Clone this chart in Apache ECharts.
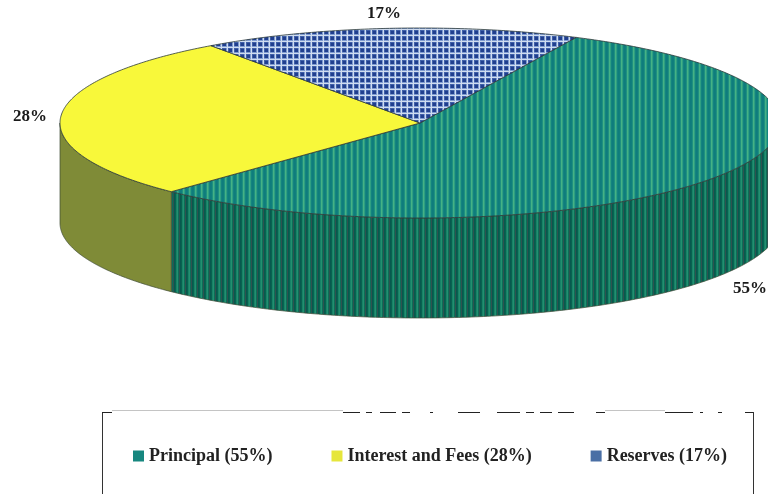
<!DOCTYPE html>
<html><head><meta charset="utf-8">
<style>html,body{margin:0;padding:0;background:#fff}#c{width:768px;height:494px}</style>
<script src="https://cdn.jsdelivr.net/npm/echarts@6/dist/echarts.min.js"></script>
</head><body><div id="c"></div>
<script>
const categories = ['Principal', 'Interest and Fees', 'Reserves'];
const values = [55, 28, 17];
const legendColors = ['#17877f', '#e6e63c', '#4a6fa5'];
const labelAnchors = [[750, 289], [30, 117], [384, 14]];

const cx = 420, cy = 123, rx = 360, ry = 95, depth = 100, startDeg = 25.7;
const total = values.reduce((a, b) => a + b, 0);

function tile(w, h, draw) {
  const c = document.createElement('canvas');
  c.width = w; c.height = h;
  draw(c.getContext('2d'));
  return { image: c, repeat: 'repeat' };
}
function stripes(cols) {
  return tile(cols.length, 4, g => cols.forEach((col, i) => { g.fillStyle = col; g.fillRect(i, 0, 1, 4); }));
}
const plaid = tile(6, 6, g => {
  g.fillStyle = '#213f8e'; g.fillRect(0, 0, 6, 6);
  g.fillStyle = '#3f5fa8'; g.fillRect(0, 0, 4, 1); g.fillRect(0, 0, 1, 4);
  g.fillStyle = '#7f9bd0'; g.fillRect(0, 4, 6, 1); g.fillRect(4, 0, 1, 6);
  g.fillStyle = '#cfdcf0'; g.fillRect(5, 0, 1, 6); g.fillRect(0, 5, 6, 1);
});
const topFills = [
  stripes(['#0f7c7d', '#107f7c', '#1f9080', '#45b285', '#2f9f82', '#13847f']),
  '#f8f83a',
  plaid
];
const sideFills = [
  stripes(['#07594f', '#08634f', '#178268', '#23906f', '#0e6c58', '#2f534f']),
  '#7f8b37',
  '#34507f'
];

function pt(deg, dy) {
  const a = deg * Math.PI / 180;
  return [cx + rx * Math.sin(a), cy - ry * Math.cos(a) + (dy || 0)];
}
function arc(from, to, dy) {
  const n = Math.max(2, Math.ceil(Math.abs(to - from) * 1.5));
  const out = [];
  for (let i = 0; i <= n; i++) out.push(pt(from + (to - from) * i / n, dy));
  return out;
}

const series = categories.map((name, idx) => {
  const before = values.slice(0, idx).reduce((a, b) => a + b, 0);
  return {
    type: 'custom',
    name: name + ' (' + values[idx] + '%)',
    coordinateSystem: 'none',
    silent: true,
    itemStyle: { color: legendColors[idx] },
    data: [[values[idx]]],
    renderItem: (params, api) => {
      const v = api.value(0);
      const a0 = startDeg + before / total * 360;
      const a1 = a0 + v / total * 360;
      const children = [];
      const s0 = Math.max(a0, 90), s1 = Math.min(a1, 270);
      if (s1 > s0) {
        children.push({
          type: 'polygon',
          shape: { points: arc(s0, s1, 0).concat(arc(s1, s0, depth)) },
          style: { fill: sideFills[idx], stroke: '#3d4a35', lineWidth: 0.7 }
        });
      }
      children.push({
        type: 'polygon',
        shape: { points: [[cx, cy]].concat(arc(a0, a1, 0)) },
        style: { fill: topFills[idx], stroke: '#2c3a3a', lineWidth: 0.8 }
      });
      children.push({
        type: 'text',
        style: {
          x: labelAnchors[idx][0], y: labelAnchors[idx][1],
          text: v + '%', fill: '#1a1a1a', align: 'center', verticalAlign: 'middle',
          fontFamily: 'Liberation Serif', fontSize: 17, fontWeight: 'bold'
        }
      });
      return { type: 'group', children };
    }
  };
});

const edge = (x1, y1, x2, y2, stroke) => ({
  type: 'line', silent: true, z: 0,
  shape: { x1, y1, x2, y2 }, style: { stroke, lineWidth: 1 }
});
const topDashes = [[102, 112], [343, 360], [366, 372], [380, 396], [402, 410], [430, 433], [458, 480], [497, 520], [526, 534], [540, 552], [558, 574], [596, 605], [665, 693], [700, 703], [718, 722], [745, 753]];
const chart = echarts.init(document.getElementById('c'), null, { renderer: 'canvas' });
chart.setOption({
  animation: false,
  backgroundColor: '#fff',
  graphic: [
    edge(102.5, 412, 102.5, 494, '#333'),
    edge(753.5, 412, 753.5, 494, '#333'),
    edge(112, 410.5, 343, 410.5, '#c4c4c4'),
    edge(605, 410.5, 665, 410.5, '#c4c4c4')
  ].concat(topDashes.map(d => edge(d[0], 412.5, d[1], 412.5, '#222'))),
  legend: {
    left: 133, top: 447, orient: 'horizontal', padding: 0,
    itemWidth: 11, itemHeight: 11, itemGap: 59, icon: 'rect',
    textStyle: { fontFamily: 'Liberation Serif', fontWeight: 'bold', fontSize: 18, color: '#222' },
    data: series.map(s => s.name)
  },
  series
});
</script></body></html>
